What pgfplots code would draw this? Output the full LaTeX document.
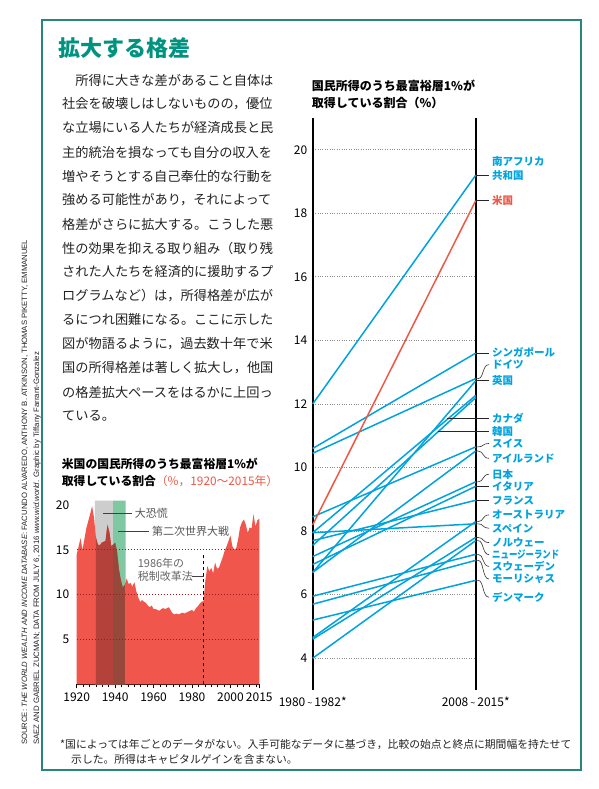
\documentclass[border=0pt]{standalone}
\usepackage{pgfplots}
\pgfplotsset{compat=1.18}
\usepackage{pgfplotstable}
\usepackage{fontspec}
\setmainfont{Noto Sans CJK JP}
\newfontfamily\srcfont{Liberation Sans}
\newcommand\fs[1]{\fontsize{#1}{#1}\selectfont}
\definecolor{teal1}{RGB}{0,148,128}
\definecolor{framec}{RGB}{40,135,125}
\definecolor{blu}{RGB}{0,163,222}
\definecolor{usred}{RGB}{238,88,70}
\definecolor{areac}{RGB}{240,86,76}
\definecolor{bandgray}{RGB}{205,205,205}
\definecolor{bandgreen}{RGB}{128,200,162}
\definecolor{grayred}{RGB}{180,66,58}
\definecolor{greenred}{RGB}{150,72,58}
\definecolor{gridred}{RGB}{150,30,30}
\definecolor{txt}{RGB}{35,35,35}
\definecolor{lbl}{RGB}{85,85,85}

\pgfplotstableread{
year v
1920 14.5
1921 15.4
1922 16.3
1923 15.0
1924 16.2
1925 17.4
1926 18.2
1927 19.0
1928 19.9
1929 18.6
1930 16.4
1931 15.6
1932 15.5
1933 15.8
1934 15.9
1935 16.0
1936 17.8
1937 17.0
1938 15.4
1939 15.6
1940 15.8
1941 14.8
1942 12.8
1943 11.6
1944 10.8
1945 11.1
1946 11.8
1947 11.2
1948 11.3
1949 10.9
1950 11.4
1951 10.4
1952 9.7
1953 9.2
1954 9.4
1955 9.2
1956 9.1
1957 8.8
1958 8.6
1959 8.8
1960 8.4
1961 8.4
1962 8.3
1963 8.2
1964 8.4
1965 8.5
1966 8.4
1967 8.5
1968 8.6
1969 8.2
1970 7.9
1971 7.8
1972 7.9
1973 7.8
1974 7.9
1975 8.0
1976 7.9
1977 8.0
1978 8.1
1979 8.2
1980 8.3
1981 8.1
1982 8.5
1983 8.7
1984 9.0
1985 9.2
1986 9.3
1987 11.7
1988 13.2
1989 12.6
1990 13.0
1991 12.4
1992 13.6
1993 12.9
1994 13.0
1995 13.6
1996 14.2
1997 14.9
1998 15.4
1999 16.0
2000 16.6
2001 15.4
2002 15.0
2003 15.2
2004 16.2
2005 17.5
2006 18.1
2007 18.4
2008 17.8
2009 16.9
2010 17.5
2011 17.4
2012 19.0
2013 17.6
2014 18.3
2015 18.5
}\usdata

\newcommand\curv[2]{\draw[black!80, line width=0.6pt] (axis cs:1,#1) -- (axis cs:1.015,#1) .. controls (axis cs:1.05,#1) and (axis cs:1.04,#2) .. (axis cs:1.082,#2);}
\newcommand\strt[2]{\draw[black!85, line width=0.7pt] (axis cs:#1,#2) -- (axis cs:1.082,#2);}
\newcommand\lab[2]{\node[anchor=west, inner sep=0pt, text=blu, font=\fs{10.5}\bfseries] at (axis cs:1.1,#1) {#2};}

\begin{document}
\begin{tikzpicture}
\path[use as bounding box, fill=white] (0pt,0pt) rectangle (599pt,-789pt);
\draw[framec, line width=1.1pt] (42pt,-20pt) rectangle (581pt,-770pt);

% title
\node[anchor=west, inner sep=0pt, text=teal1, font=\fs{22}\bfseries] at (58pt,-48pt) {拡大する格差};

% body text
\begin{scope}[every node/.style={anchor=west, inner sep=0pt, text=txt, font=\fs{13.2}}]
\node at (62pt,-80pt) {　所得に大きな差があること自体は};
\node at (62pt,-104pt) {社会を破壊しはしないものの，優位};
\node at (62pt,-128pt) {な立場にいる人たちが経済成長と民};
\node at (62pt,-152pt) {主的統治を損なっても自分の収入を};
\node at (62pt,-176pt) {増やそうとする自己奉仕的な行動を};
\node at (62pt,-200pt) {強める可能性があり，それによって};
\node at (62pt,-224pt) {格差がさらに拡大する。こうした悪};
\node at (62pt,-248pt) {性の効果を抑える取り組み（取り残};
\node at (62pt,-272pt) {された人たちを経済的に援助するプ};
\node at (62pt,-296pt) {ログラムなど）は，所得格差が広が};
\node at (62pt,-320pt) {るにつれ困難になる。ここに示した};
\node at (62pt,-344pt) {図が物語るように，過去数十年で米};
\node at (62pt,-368pt) {国の所得格差は著しく拡大し，他国};
\node at (62pt,-392pt) {の格差拡大ペースをはるかに上回っ};
\node at (62pt,-416pt) {ている。};
\end{scope}

% source (vertical)
\node[rotate=90, anchor=west, inner sep=0pt, text=txt] at (25pt,-745pt) {\resizebox{505pt}{!}{\srcfont\fs{7}SOURCE: \textit{THE WORLD WEALTH AND INCOME DATABASE}: FACUNDO ALVAREDO, ANTHONY B. ATKINSON, THOMAS PIKETTY, EMMANUEL}};
\node[rotate=90, anchor=west, inner sep=0pt, text=txt] at (37pt,-745pt) {\resizebox{393pt}{!}{\srcfont\fs{7}SAEZ AND GABRIEL ZUCMAN; DATA FROM JULY 6, 2016 \textit{www.wid.world}. Graphic by Tiffany Farrant-Gonzalez}};

% footnote
\node[anchor=west, inner sep=0pt, text=txt, font=\fs{10.8}] at (60pt,-744pt) {*国によっては年ごとのデータがない。入手可能なデータに基づき，比較の始点と終点に期間幅を持たせて};
\node[anchor=west, inner sep=0pt, text=txt, font=\fs{10.8}] at (71pt,-759pt) {示した。所得はキャピタルゲインを含まない。};

% small chart title
\node[anchor=west, inner sep=0pt, text=black, font=\fs{11.8}\bfseries] at (61.7pt,-464pt) {米国の国民所得のうち最富裕層1\%が};
\node[anchor=west, inner sep=0pt, text=black, font=\fs{11.8}] at (61.7pt,-481pt) {\textbf{取得している割合}\textcolor{usred}{（\%，1920～2015年）}};

% slope chart title
\node[anchor=west, inner sep=0pt, text=black, font=\fs{12}\bfseries] at (311.7pt,-86pt) {国民所得のうち最富裕層1\%が};
\node[anchor=west, inner sep=0pt, text=black, font=\fs{12}\bfseries] at (311.7pt,-103.3pt) {取得している割合（\%）};

% ---------- small chart ----------
\begin{axis}[at={(76.7pt,-684.3pt)}, anchor=south west, scale only axis,
  width=182.6pt, height=183.7pt, xmin=1920, xmax=2015, ymin=0, ymax=20.5,
  axis x line*=bottom, axis y line*=left, y axis line style={draw=none},
  x axis line style={black, line width=0.8pt},
  xtick={1920,1940,1960,1980,2000,2015},
  xticklabels={1920,1940,1960,1980,2000,2015},
  minor xtick={1923.3333,1926.6667,...,2014},
  ytick={5,10,15,20},
  tick align=outside, major tick length=4pt, minor tick length=3pt,
  x tick style={black, line width=0.6pt}, y tick style={draw=none},
  /pgf/number format/assume math mode=true,
  tick label style={font=\fs{12}, text=black},
  xticklabel style={yshift=-1pt},
  clip=false]
\addplot[fill=bandgray, draw=none] coordinates {(1929.5,0) (1929.5,20.5) (1939,20.5) (1939,0)} \closedcycle;
\addplot[fill=bandgreen, draw=none] coordinates {(1939,0) (1939,20.5) (1945.5,20.5) (1945.5,0)} \closedcycle;
\addplot[fill=areac, draw=none] table[x=year, y=v] {\usdata} \closedcycle;
\addplot[fill=grayred, draw=none, restrict x to domain=1930:1939] table[x=year, y=v] {\usdata} \closedcycle;
\addplot[fill=greenred, draw=none, restrict x to domain=1939:1945] table[x=year, y=v] {\usdata} \closedcycle;
\draw[gridred, dotted, line width=1pt] (axis cs:1920,5) -- (axis cs:2015,5);
\draw[gridred, dotted, line width=1pt] (axis cs:1920,10) -- (axis cs:2015,10);
\draw[gridred, dotted, line width=1pt] (axis cs:1920,15) -- (axis cs:2015,15);
\draw[black, dashed, line width=0.7pt] (axis cs:1986,0) -- (axis cs:1986,14.7);
\draw[black!75, line width=0.6pt] (axis cs:1933.9,19.1) -- (axis cs:1948.6,19.1);
\node[anchor=west, inner sep=0pt, text=lbl, font=\fs{11}] at (axis cs:1950.2,19.1) {大恐慌};
\draw[black!75, line width=0.6pt] (axis cs:1941.7,17.1) -- (axis cs:1957.6,17.1);
\node[anchor=west, inner sep=0pt, text=lbl, font=\fs{11}] at (axis cs:1959.2,17.1) {第二次世界大戦};
\node[anchor=west, inner sep=0pt, text=black!60, font=\fs{11}] at (axis cs:1951.7,13.45) {1986年の};
\node[anchor=west, inner sep=0pt, text=black!60, font=\fs{11}] at (axis cs:1951.7,12.0) {税制改革法};
\draw[black!75, line width=0.6pt] (axis cs:1979.8,12.0) -- (axis cs:1986,12.0);
\end{axis}

% ---------- slope chart ----------
\begin{axis}[at={(312.7pt,-690pt)}, anchor=south west, scale only axis,
  width=163pt, height=572pt, xmin=0, xmax=1, ymin=3, ymax=21,
  separate axis lines, x axis line style={draw=none},
  y axis line style={black, line width=2.4pt},
  ytick={4,6,...,20}, xtick={0,1},
  xticklabels={1980\,{\fs{9}\textasciitilde}\,1982*, 2008\,{\fs{9}\textasciitilde}\,2015*},
  tick style={draw=none},
  ymajorgrids, major grid style={dotted, black!45, line width=1pt},
  /pgf/number format/assume math mode=true,
  tick label style={font=\fs{12}, text=black},
  yticklabel style={xshift=-2pt},
  xticklabel style={yshift=-3pt},
  clip=false]
% South Africa
\addplot[blu, line width=1.5pt, mark=none] coordinates {(0,12.0) (1,19.2)};
% Singapore, Germany, UK
\addplot[blu, line width=1.5pt, mark=none] coordinates {(0,10.6) (1,13.6)};
\addplot[blu, line width=1.5pt, mark=none] coordinates {(0,10.45) (1,12.8)};
\addplot[blu, line width=1.5pt, mark=none] coordinates {(0,6.7) (1,12.73)};
% Canada, Korea
\addplot[blu, line width=1.5pt, mark=none] coordinates {(0,7.95) (1,12.27)};
\addplot[blu, line width=1.5pt, mark=none] coordinates {(0,7.55) (1,12.2)};
% Switzerland, Ireland
\addplot[blu, line width=1.5pt, mark=none] coordinates {(0,8.45) (1,10.65)};
\addplot[blu, line width=1.5pt, mark=none] coordinates {(0,6.7) (1,10.52)};
% Japan, Italy, France
\addplot[blu, line width=1.5pt, mark=none] coordinates {(0,7.2) (1,9.55)};
\addplot[blu, line width=1.5pt, mark=none] coordinates {(0,6.95) (1,9.41)};
\addplot[blu, line width=1.5pt, mark=none] coordinates {(0,7.7) (1,8.97)};
% Australia, Spain
\addplot[blu, line width=1.5pt, mark=none] coordinates {(0,4.65) (1,8.3)};
\addplot[blu, line width=1.5pt, mark=none] coordinates {(0,7.95) (1,8.23)};
% Norway, New Zealand
\addplot[blu, line width=1.5pt, mark=none] coordinates {(0,4.6) (1,7.8)};
\addplot[blu, line width=1.5pt, mark=none] coordinates {(0,4.0) (1,7.7)};
% Sweden, Mauritius, Denmark
\addplot[blu, line width=1.5pt, mark=none] coordinates {(0,5.95) (1,7.27)};
\addplot[blu, line width=1.5pt, mark=none] coordinates {(0,5.7) (1,7.08)};
\addplot[blu, line width=1.5pt, mark=none] coordinates {(0,5.2) (1,6.45)};
% United States
\addplot[usred, line width=1.5pt, mark=none] coordinates {(0,8.2) (1,18.4)};

% connectors
\strt{1}{19.2}
\draw[black!85, line width=0.7pt] (axis cs:1,18.4) -- (axis cs:1.082,18.4);
\strt{1}{13.6}
\curv{12.8}{13.24}
\strt{1}{12.73}
\strt{0.822}{11.55}
\strt{0.77}{11.13}
\curv{10.65}{10.76}
\curv{10.52}{10.29}
\curv{9.55}{9.79}
\strt{1}{9.4}
\strt{1}{8.97}
\curv{8.3}{8.51}
\curv{8.23}{8.09}
\curv{7.8}{7.64}
\curv{7.7}{7.26}
\curv{7.27}{6.89}
\curv{7.08}{6.49}
\curv{6.45}{5.92}
% labels
\lab{19.62}{南アフリカ}
\lab{19.2}{共和国}
\node[anchor=west, inner sep=0pt, text=usred, font=\fs{10.5}\bfseries] at (axis cs:1.1,18.4) {米国};
\lab{13.63}{シンガポール}
\lab{13.24}{ドイツ}
\lab{12.75}{英国}
\lab{11.55}{カナダ}
\lab{11.13}{韓国}
\lab{10.76}{スイス}
\lab{10.29}{アイルランド}
\lab{9.79}{日本}
\lab{9.4}{イタリア}
\lab{8.97}{フランス}
\lab{8.51}{オーストラリア}
\lab{8.09}{スペイン}
\lab{7.64}{ノルウェー}
\lab{7.26}{\scalebox{0.8}[1]{ニュージーランド}}
\lab{6.89}{スウェーデン}
\lab{6.49}{モーリシャス}
\lab{5.92}{デンマーク}
\end{axis}
\end{tikzpicture}
\end{document}
